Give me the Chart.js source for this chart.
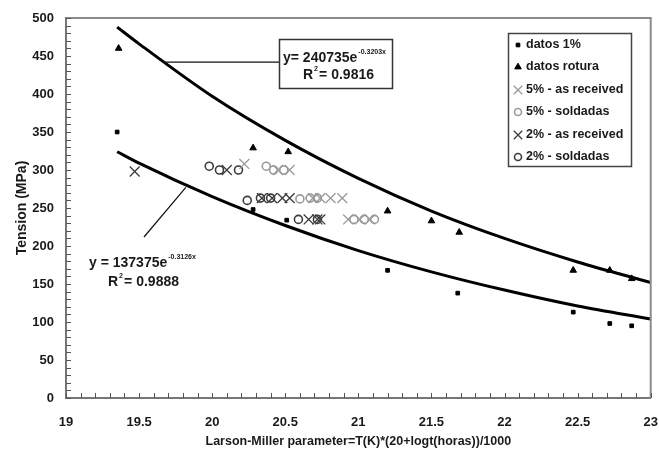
<!DOCTYPE html>
<html>
<head>
<meta charset="utf-8">
<script src="https://cdn.jsdelivr.net/npm/chart.js@4.4.1/dist/chart.umd.min.js"></script>
<style>
  html, body { margin: 0; padding: 0; background: #fff; }
  #wrap { width: 659px; height: 459px; }
</style>
</head>
<body>
<div id="wrap"><canvas id="grafico" width="659" height="459"></canvas></div>
<script>
// --- DATOS ---
const datos1X = [19.35, 20.28, 20.51, 21.2, 21.68, 22.47, 22.72, 22.87];
const datos1Y = [350, 248, 234, 168, 138, 113, 98, 95];

const roturaX = [19.36, 20.28, 20.52, 21.2, 21.5, 21.69, 22.47, 22.72, 22.87];
const roturaY = [460, 329, 324, 246, 233, 218, 168, 168, 157];

const recibido5X = [20.22, 20.45, 20.53, 20.69, 20.74, 20.81, 20.89, 20.93, 21.01, 21.08];
const recibido5Y = [308, 300, 300, 263, 263, 263, 263, 235, 235, 235];

const soldadas5X = [20.37, 20.42, 20.49, 20.60, 20.67, 20.72, 20.97, 21.04, 21.11];
const soldadas5Y = [305, 300, 300, 262, 263, 263, 235, 235, 235];

const recibido2X = [19.47, 20.10, 20.34, 20.41, 20.48, 20.53, 20.66, 20.72, 20.74];
const recibido2Y = [298, 300, 263, 263, 263, 263, 235, 235, 235];

const soldadas2X = [19.98, 20.05, 20.18, 20.24, 20.33, 20.40, 20.59, 20.72];
const soldadas2Y = [305, 300, 300, 260, 263, 263, 235, 235];

// curvas de ajuste, valores leídos sobre las líneas
const ajusteX = [19.35, 19.5, 20, 20.5, 21, 21.5, 22, 22.5, 23];
const ajusteRoturaY = [488, 466, 397, 339, 289, 246, 210, 179, 152];
const ajuste1Y = [324, 309, 265, 227, 194, 166, 142, 121, 104];

// ejes
const ejeXMin = 19, ejeXMax = 23, ejeXPaso = 0.5;
const ejeYMin = 0, ejeYMax = 500, ejeYPaso = 50;

const FUENTE = '"Liberation Sans", Arial, Helvetica, sans-serif';
const GRIS_CLARO = '#9a9a9a';
const GRIS_OSCURO = '#3c3c3c';
const TRANSPARENTE = 'rgba(0,0,0,0)';

function puntos(xs, ys) {
    return xs.map((x, i) => ({ x: x, y: ys[i] }));
}

// --- SERIES ---
const series = [
    { label: 'datos 1%', data: puntos(datos1X, datos1Y), pointStyle: 'rect', pointRadius: 2.6,
      borderColor: '#000', backgroundColor: '#000', pointBorderWidth: 1 },
    { label: 'datos rotura', data: puntos(roturaX, roturaY), pointStyle: 'triangle', pointRadius: 3.8,
      borderColor: '#000', backgroundColor: '#000', pointBorderWidth: 1 },
    { label: '5% - as received', data: puntos(recibido5X, recibido5Y), pointStyle: 'crossRot', pointRadius: 7,
      borderColor: GRIS_CLARO, backgroundColor: GRIS_CLARO, pointBorderWidth: 1.3 },
    { label: '5% - soldadas', data: puntos(soldadas5X, soldadas5Y), pointStyle: 'circle', pointRadius: 4,
      borderColor: GRIS_CLARO, backgroundColor: TRANSPARENTE, pointBorderWidth: 1.6 },
    { label: '2% - as received', data: puntos(recibido2X, recibido2Y), pointStyle: 'crossRot', pointRadius: 7,
      borderColor: GRIS_OSCURO, backgroundColor: GRIS_OSCURO, pointBorderWidth: 1.3 },
    { label: '2% - soldadas', data: puntos(soldadas2X, soldadas2Y), pointStyle: 'circle', pointRadius: 4,
      borderColor: GRIS_OSCURO, backgroundColor: TRANSPARENTE, pointBorderWidth: 1.6 }
];

const curvas = [
    { label: 'ajuste rotura', data: puntos(ajusteX, ajusteRoturaY) },
    { label: 'ajuste 1%', data: puntos(ajusteX, ajuste1Y) }
].map(c => Object.assign(c, {
    showLine: true, borderColor: '#000', borderWidth: 3, pointRadius: 0,
    tension: 0.4, cubicInterpolationMode: 'monotone', fill: false
}));

// --- PLUGIN: marco, marcas menores, ecuaciones y leyenda ---
function textoConExponente(c, base, exp, x, y, tam, tamExp) {
    c.font = 'bold ' + tam + 'px ' + FUENTE;
    c.fillText(base, x, y);
    const w = c.measureText(base).width;
    c.font = 'bold ' + tamExp + 'px ' + FUENTE;
    c.fillText(exp, x + w + 1, y - tam * 0.45);
}

const extras = {
    id: 'extras',
    afterDraw(chart) {
        const c = chart.ctx;
        const area = chart.chartArea;
        const sx = chart.scales.x, sy = chart.scales.y;
        c.save();

        // marco superior y derecho
        c.strokeStyle = '#8a8a8a';
        c.lineWidth = 2;
        c.beginPath();
        c.moveTo(area.left, area.top);
        c.lineTo(area.right, area.top);
        c.lineTo(area.right, area.bottom);
        c.stroke();

        // marcas menores hacia dentro
        c.strokeStyle = '#555';
        c.lineWidth = 1;
        c.beginPath();
        for (let v = ejeYMin; v <= ejeYMax; v += 10) {
            const py = Math.round(sy.getPixelForValue(v)) + 0.5;
            c.moveTo(area.left, py);
            c.lineTo(area.left + 5, py);
        }
        for (let i = 0; i <= (ejeXMax - ejeXMin) * 10; i++) {
            const px = Math.round(sx.getPixelForValue(ejeXMin + i / 10)) + 0.5;
            c.moveTo(px, area.bottom);
            c.lineTo(px, area.bottom - 5);
        }
        c.stroke();

        c.fillStyle = '#1a1a1a';
        c.textBaseline = 'middle';
        c.textAlign = 'left';

        // ecuación superior con recuadro
        const p1 = { x: sx.getPixelForValue(19.67), y: sy.getPixelForValue(442) };
        c.strokeStyle = '#111';
        c.lineWidth = 1.2;
        c.beginPath();
        c.moveTo(p1.x, p1.y);
        c.lineTo(279, p1.y);
        c.stroke();
        c.strokeStyle = '#333';
        c.lineWidth = 1.5;
        c.strokeRect(279.5, 39.5, 113, 49);
        textoConExponente(c, 'y= 240735e', '-0.3203x', 283, 58, 14, 7);
        textoConExponente(c, 'R', '2', 303, 75, 14, 7);
        c.font = 'bold 14px ' + FUENTE;
        c.fillText('= 0.9816', 303 + c.measureText('R').width + 6, 75);

        // ecuación inferior
        const p2 = { x: sx.getPixelForValue(19.82), y: sy.getPixelForValue(277) };
        c.strokeStyle = '#111';
        c.lineWidth = 1.2;
        c.beginPath();
        c.moveTo(p2.x, p2.y);
        c.lineTo(144, 237);
        c.stroke();
        textoConExponente(c, 'y = 137375e', '-0.3126x', 89, 263, 14, 7);
        textoConExponente(c, 'R', '2', 108, 282, 14, 7);
        c.font = 'bold 14px ' + FUENTE;
        c.fillText('= 0.9888', 108 + c.measureText('R').width + 6, 282);

        // leyenda
        c.fillStyle = '#fff';
        c.fillRect(508, 33, 124, 134);
        c.strokeStyle = '#444';
        c.lineWidth = 1.5;
        c.strokeRect(508.5, 33.5, 123, 133);
        const filas = [45, 67, 90, 112, 135, 157];
        series.forEach((s, i) => {
            const y = filas[i];
            c.strokeStyle = s.borderColor;
            c.fillStyle = s.backgroundColor;
            c.lineWidth = s.pointBorderWidth;
            const r = s.pointStyle === 'crossRot' ? 6 : (s.pointStyle === 'circle' ? 3.5 : s.pointRadius);
            Chart.helpers.drawPoint(c, { pointStyle: s.pointStyle, radius: r, rotation: 0, borderWidth: s.pointBorderWidth }, 518, y);
            c.fillStyle = '#1a1a1a';
            c.font = 'bold 12.5px ' + FUENTE;
            c.fillText(s.label, 526, y);
        });

        c.restore();
    }
};

// --- GRÁFICO ---
const grafico = new Chart(document.getElementById('grafico'), {
    type: 'scatter',
    data: { datasets: series.concat(curvas) },
    options: {
        responsive: false,
        animation: false,
        layout: { padding: { left: 0, top: 18, right: 8, bottom: 0 } },
        plugins: { legend: { display: false }, tooltip: { enabled: false } },
        scales: {
            x: {
                type: 'linear', min: ejeXMin, max: ejeXMax,
                afterFit(scale) { scale.height = 61; },
                ticks: {
                    stepSize: ejeXPaso, padding: 0, color: '#1a1a1a',
                    font: { family: FUENTE, size: 13, weight: 'bold' },
                    callback: v => String(Math.round(v * 10) / 10)
                },
                // marcas transparentes: solo sirven para separar las etiquetas del eje
                grid: { color: TRANSPARENTE, drawOnChartArea: false, drawTicks: true, tickLength: 17 },
                border: { display: true, color: '#777', width: 2 },
                title: {
                    display: true, text: 'Larson-Miller parameter=T(K)*(20+logt(horas))/1000',
                    color: '#1a1a1a', padding: 10,
                    font: { family: FUENTE, size: 12.5, weight: 'bold' }
                }
            },
            y: {
                type: 'linear', min: ejeYMin, max: ejeYMax,
                afterFit(scale) { scale.width = 66; },
                ticks: {
                    stepSize: ejeYPaso, padding: 0, color: '#1a1a1a',
                    font: { family: FUENTE, size: 13, weight: 'bold' }
                },
                grid: { color: TRANSPARENTE, drawOnChartArea: false, drawTicks: true, tickLength: 12 },
                border: { display: true, color: '#777', width: 2 },
                title: {
                    display: true, text: 'Tension (MPa)', color: '#1a1a1a', padding: 14,
                    font: { family: FUENTE, size: 14, weight: 'bold' }
                }
            }
        }
    },
    plugins: [extras]
});
</script>
</body>
</html>
